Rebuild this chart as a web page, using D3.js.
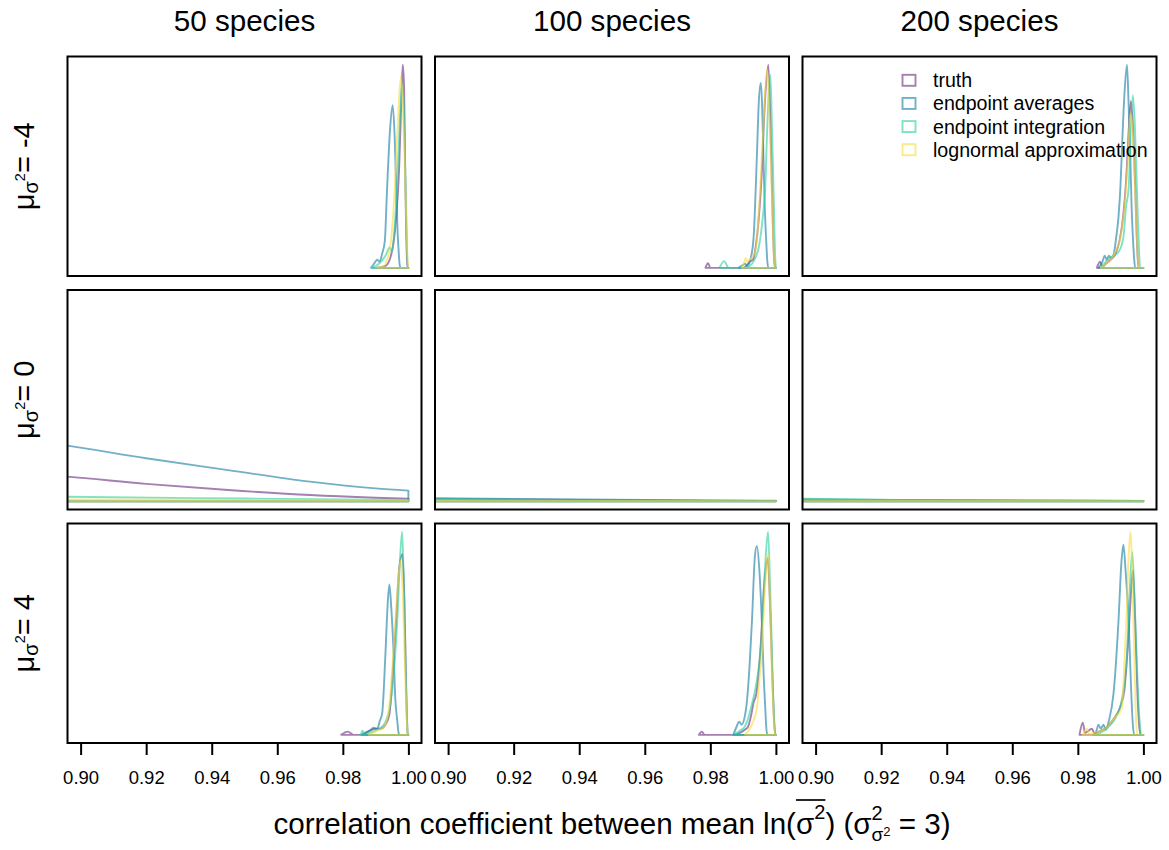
<!DOCTYPE html>
<html>
<head>
<meta charset="utf-8">
<script src="https://cdn.jsdelivr.net/npm/d3@7"></script>
<style>
  body { margin: 0; background: #fff; }
  svg { display: block; font-family: "Liberation Sans", Arial, Helvetica, sans-serif; }
</style>
</head>
<body>
<svg id="chart" width="1169" height="850"></svg>
<script>
// Column and row headings
const speciesCounts = ["50 species", "100 species", "200 species"];
const muValues = ["-4", "0", "4"];
const seriesNames = ["truth", "endpoint averages", "endpoint integration", "lognormal approximation"];
const seriesColors = ["#672a7b", "#127ca2", "#28d09d", "#f8da3c"];
const xTicks = [0.90, 0.92, 0.94, 0.96, 0.98, 1.00];

// Density curves as [correlation, relative density (% of the panel's maximum)].
// Panel order: mu = -4 (50, 100, 200 species), mu = 0 (...), mu = 4 (...)
const truthCurves = [
  [[0.9900,0],[0.9930,1],[0.9945,5],[0.9960,20],[0.9972,50],[0.9979,85],[0.9983,100],[0.9987,88],[0.9990,50],[0.9993,20],[0.9996,3],[0.9998,0],[1.0,0]],
  [[0.9785,0],[0.9793,2.3],[0.9800,0],[0.9900,0],[0.9910,1],[0.9920,3],[0.9930,4],[0.9938,10],[0.9947,23],[0.9957,47],[0.9966,80],[0.9977,100],[0.9985,60],[0.9991,20],[0.9995,3],[0.9998,0],[1.0,0]],
  [[0.9858,0],[0.9868,3],[0.9875,0.5],[0.9885,2],[0.9900,4],[0.9915,7],[0.9928,14],[0.9938,25],[0.9948,45],[0.9956,70],[0.9962,82],[0.9968,70],[0.9975,40],[0.9981,10],[0.9985,0],[1.0,0]],
  [[0.88,14],[0.896,12.2],[0.92,8.6],[0.945,5.6],[0.97,3.1],[0.99,1.8],[1.0,1.3]],
  [[0.88,1.4],[0.896,1.2],[0.95,0.6],[1.0,0.2]],
  [[0.88,0.9],[0.896,0.8],[0.95,0.4],[1.0,0.2]],
  [[0.9795,0],[0.9815,1.6],[0.9833,0],[0.9855,0],[0.9875,1.5],[0.9900,3],[0.9915,3],[0.9930,5],[0.9942,10],[0.9952,30],[0.9962,55],[0.9972,82],[0.9982,89],[0.9988,65],[0.9993,25],[0.9997,3],[0.9998,0],[1.0,0]],
  [[0.9765,0],[0.9774,1.6],[0.9783,0],[0.9870,0],[0.9890,1],[0.9905,2.5],[0.9915,4],[0.9925,10],[0.9932,16],[0.9940,20],[0.9952,40],[0.9965,75],[0.9975,87],[0.9983,60],[0.9990,25],[0.9996,3],[0.9999,0],[1.0,0]],
  [[0.9805,0],[0.9815,6],[0.9822,1],[0.9843,3],[0.9850,1],[0.9870,2],[0.9890,4],[0.9910,8],[0.9930,14],[0.9942,22],[0.9955,50],[0.9963,72],[0.9968,81],[0.9975,55],[0.9982,20],[0.9988,3],[0.9992,0],[1.0,0]]
];
const averagesCurves = [
  [[0.9886,0],[0.9895,2],[0.9905,4],[0.9912,3],[0.9920,7],[0.9928,13],[0.9935,39],[0.9944,68],[0.9952,80],[0.9958,65],[0.9963,39],[0.9967,18],[0.9970,9],[0.9973,2],[0.9976,0],[1.0,0]],
  [[0.9886,0],[0.9900,1.5],[0.9906,2],[0.9912,1],[0.9922,4],[0.9932,15],[0.9942,55],[0.9948,82],[0.9954,91],[0.9958,80],[0.9962,55],[0.9966,30],[0.9970,15],[0.9974,3],[0.9977,0],[1.0,0]],
  [[0.9863,0],[0.9875,3],[0.9882,6],[0.9888,4],[0.9895,6],[0.9900,5],[0.9909,6.5],[0.9917,15],[0.9924,25],[0.9930,40],[0.9934,56],[0.9942,85],[0.9950,100],[0.9955,80],[0.9960,56],[0.9964,30],[0.9968,15],[0.9972,4],[0.9975,0],[1.0,0]],
  [[0.88,31],[0.896,27.4],[0.92,21.2],[0.945,15.4],[0.97,9.7],[0.99,6.4],[1.0,5.3]],
  [[0.88,1.8],[0.896,1.5],[0.95,0.8],[1.0,0.3]],
  [[0.88,1.1],[0.896,0.9],[0.95,0.5],[1.0,0.2]],
  [[0.9858,0],[0.9875,1.5],[0.9885,2.5],[0.9894,3.5],[0.9905,3],[0.9913,7],[0.9920,10.6],[0.9930,40],[0.9937,65],[0.9942,74],[0.9948,62],[0.9955,40],[0.9960,18],[0.9966,7],[0.9970,1],[0.9973,0],[1.0,0]],
  [[0.9870,0],[0.9880,4],[0.9888,6.5],[0.9895,5],[0.9905,9],[0.9911,15.5],[0.9920,35],[0.9927,56],[0.9936,88],[0.9942,93],[0.9950,80],[0.9957,56],[0.9963,28],[0.9967,15],[0.9971,3],[0.9974,0],[1.0,0]],
  [[0.9847,0],[0.9855,1],[0.9863,5],[0.9870,3],[0.9878,5],[0.9885,2.5],[0.9895,7],[0.9909,20.5],[0.9924,56],[0.9933,85],[0.9939,93.6],[0.9946,80],[0.9955,56],[0.9962,25],[0.9965,13],[0.9969,3],[0.9972,0],[1.0,0]]
];
const integrationCurves = [
  [[0.9890,0],[0.9910,2],[0.9930,6],[0.9943,10],[0.9950,8],[0.9958,20],[0.9968,50],[0.9976,80],[0.9981,91],[0.9986,80],[0.9991,45],[0.9995,15],[0.9998,0],[1.0,0]],
  [[0.9828,0],[0.9842,3.3],[0.9856,0],[0.9900,0],[0.9920,1],[0.9935,4],[0.9950,12],[0.9960,25],[0.9967,38],[0.9975,75],[0.9983,95],[0.9988,70],[0.9994,30],[0.9998,5],[1.0,0]],
  [[0.9868,0],[0.9880,2],[0.9890,4],[0.9910,6],[0.9925,8],[0.9939,15],[0.9947,30],[0.9955,39],[0.9962,70],[0.9968,85],[0.9974,70],[0.9980,40],[0.9986,12],[0.9990,0],[1.0,0]],
  [[0.88,2.8],[0.896,2.3],[0.95,1.4],[1.0,0.7]],
  [[0.88,1.6],[0.896,1.3],[0.93,0.6],[1.0,0.1]],
  [[0.88,1.6],[0.896,1.3],[0.93,0.6],[1.0,0.2]],
  [[0.9855,0],[0.9860,2],[0.9866,0.5],[0.9880,1],[0.9900,2],[0.9925,5],[0.9945,15],[0.9966,56],[0.9975,88],[0.9981,100],[0.9986,75],[0.9992,30],[0.9996,5],[0.9998,0],[1.0,0]],
  [[0.9870,0],[0.9890,2],[0.9905,4],[0.9915,8],[0.9925,14],[0.9940,25],[0.9955,45],[0.9966,80],[0.9976,100],[0.9982,75],[0.9988,40],[0.9994,10],[0.9999,0],[1.0,0]],
  [[0.9850,0],[0.9880,2],[0.9900,5],[0.9920,10],[0.9935,18],[0.9950,40],[0.9958,70],[0.9966,90],[0.9972,72],[0.9980,35],[0.9988,8],[0.9995,0],[1.0,0]]
];
const lognormalCurves = [
  [[0.9900,0],[0.9925,1],[0.9935,4],[0.9948,15],[0.9958,38],[0.9968,72],[0.9977,94],[0.9983,80],[0.9990,45],[0.9995,15],[0.9999,0],[1.0,0]],
  [[0.9896,0],[0.9904,3],[0.9908,5],[0.9913,3],[0.9920,4],[0.9937,8],[0.9945,20],[0.9952,39],[0.9962,70],[0.9973,98],[0.9980,75],[0.9987,40],[0.9993,10],[0.9997,0],[1.0,0]],
  [[0.9870,0],[0.9885,2],[0.9900,4],[0.9915,8],[0.9930,15],[0.9944,33],[0.9953,55],[0.9960,76],[0.9966,70],[0.9973,45],[0.9980,15],[0.9985,0],[1.0,0]],
  [[0.88,1.2],[0.896,1.0],[0.95,0.7],[1.0,0.4]],
  [[0.88,0.5],[0.896,0.4],[1.0,0.1]],
  [[0.88,0.5],[0.896,0.4],[1.0,0.1]],
  [[0.9880,0],[0.9900,2],[0.9920,3],[0.9932,6],[0.9940,12],[0.9950,30],[0.9960,55],[0.9970,78],[0.9977,86],[0.9984,65],[0.9990,30],[0.9995,8],[0.9998,0],[1.0,0]],
  [[0.9906,0],[0.9920,3],[0.9942,13],[0.9950,28],[0.9957,40],[0.9966,70],[0.9976,89],[0.9982,65],[0.9988,30],[0.9994,6],[0.9998,0],[1.0,0]],
  [[0.9815,0],[0.9827,3],[0.9835,0.5],[0.9850,1],[0.9870,2],[0.9890,4],[0.9910,8],[0.9934,13],[0.9942,35],[0.9948,56],[0.9955,88],[0.9961,100],[0.9966,80],[0.9972,40],[0.9977,10],[0.9981,0],[1.0,0]]
];

const allSeries = [truthCurves, averagesCurves, integrationCurves, lognormalCurves];

// ---- layout ----
const svg = d3.select("#chart");
svg.append("rect").attr("width", 1169).attr("height", 850).attr("fill", "#fff");

const PANEL = { left: 67.5, top: 56.5, w: 354, h: 219.5, stepX: 367.5, stepY: 233.5 };
const xDomain = [0.896, 1.004];   // 0.90–1.00 plus 4% on each side
const yDomain = [-4, 104];        // 0–100 plus 4% on each side
const FONT_BIG = 29.6, FONT_TICK = 18.5, FONT_LEGEND = 19.6;
const LINE_W = 1.9, LINE_ALPHA = 0.6;

for (let i = 0; i < 9; i++) {
  const r = Math.floor(i / 3), c = i % 3;
  const x0 = PANEL.left + c * PANEL.stepX, y0 = PANEL.top + r * PANEL.stepY;
  const x = d3.scaleLinear().domain(xDomain).range([x0, x0 + PANEL.w]);
  const y = d3.scaleLinear().domain(yDomain).range([y0 + PANEL.h, y0]);

  svg.append("clipPath").attr("id", "clip" + i)
    .append("rect").attr("x", x0).attr("y", y0).attr("width", PANEL.w).attr("height", PANEL.h);

  const g = svg.append("g").attr("clip-path", `url(#clip${i})`);
  const area = d3.area()
    .x(d => x(d[0])).y0(y(0)).y1(d => y(d[1]))
    .curve(d3.curveMonotoneX);

  allSeries.forEach((series, k) => {
    g.append("path")
      .attr("d", area(series[i]))
      .attr("fill", "none")
      .attr("stroke", seriesColors[k])
      .attr("stroke-opacity", LINE_ALPHA)
      .attr("stroke-width", LINE_W)
      .attr("stroke-linejoin", "round");
  });

  svg.append("rect")
    .attr("x", x0).attr("y", y0).attr("width", PANEL.w).attr("height", PANEL.h)
    .attr("fill", "none").attr("stroke", "#000").attr("stroke-width", 2);

  if (r === 2) {
    const ax = svg.append("g")
      .attr("transform", `translate(0,${y0 + PANEL.h})`)
      .call(d3.axisBottom(x).tickValues(xTicks).tickSize(12).tickPadding(16)
        .tickFormat(d3.format(".2f")));
    ax.select(".domain").remove();
    ax.selectAll(".tick line").attr("stroke", "#000").attr("stroke-width", 2);
    ax.selectAll(".tick text").attr("fill", "#000")
      .attr("font-size", FONT_TICK).attr("font-family", "Liberation Sans, Arial, sans-serif");
  }

  if (r === 0) {
    svg.append("text")
      .attr("x", x0 + PANEL.w / 2).attr("y", 31)
      .attr("text-anchor", "middle").attr("font-size", FONT_BIG)
      .text(speciesCounts[c]);
  }
}

// Text built from pieces with size and baseline shift; `under` stacks a piece
// beneath the previous one (sub- and superscript on the same symbol).
function richText(parent, pieces) {
  const g = parent.append("g");
  const t = g.append("text").attr("x", 0).attr("y", 0);
  let cur = 0, prev = null;
  pieces.forEach(p => {
    const shift = p.shift || 0;
    const s = t.append("tspan").attr("font-size", p.size).attr("dy", shift - cur).text(p.t);
    cur = shift;
    if (p.under && prev) s.attr("dx", -prev.node().getComputedTextLength());
    prev = s;
  });
  return { g, t };
}

// Row labels: mu_{sigma^2} = value
muValues.forEach((m, r) => {
  const cy = PANEL.top + r * PANEL.stepY + PANEL.h / 2;
  const holder = svg.append("g").attr("transform", `translate(34,${cy}) rotate(-90)`);
  const { g, t } = richText(holder, [
    { t: "\u03bc", size: 29 },
    { t: "\u03c3", size: 20, shift: 3.5 },
    { t: "2", size: 14.5, shift: -9 },
    { t: "= " + m, size: 29, shift: 0 }
  ]);
  const bb = t.node().getBBox();
  g.attr("transform", `translate(${-(bb.x + bb.width / 2)},0)`);
});

// X-axis title
{
  const head = "correlation coefficient between mean ln(";
  const { g, t } = richText(svg, [
    { t: head, size: FONT_BIG },
    { t: "\u03c3", size: FONT_BIG },
    { t: "2", size: 20, shift: -15 },
    { t: ") (\u03c3", size: FONT_BIG, shift: 0 },
    { t: "2", size: 20, shift: -14 },
    { t: "\u03c3", size: 19, shift: 7, under: true },
    { t: "2", size: 13, shift: 1.5 },
    { t: " = 3)", size: FONT_BIG, shift: 0 }
  ]);
  const bb = t.node().getBBox();
  g.attr("transform", `translate(${612 - (bb.x + bb.width / 2)},834)`);
  // bar over sigma^2 inside ln( )
  const n = head.length;
  const a = t.node().getExtentOfChar(n);
  const b = t.node().getExtentOfChar(n + 1);
  g.append("line")
    .attr("x1", a.x).attr("x2", b.x + b.width)
    .attr("y1", b.y - 1).attr("y2", b.y - 1)
    .attr("stroke", "#000").attr("stroke-width", 1.7);
}

// Legend (top-right panel)
{
  const lg = svg.append("g");
  const rowY = d3.scaleLinear().domain([0, 3]).range([80.3, 149.7]);
  seriesNames.forEach((name, k) => {
    const cy = rowY(k);
    lg.append("rect")
      .attr("x", 902.5).attr("y", cy - 5.5).attr("width", 13).attr("height", 11)
      .attr("fill", "none").attr("stroke", seriesColors[k])
      .attr("stroke-opacity", LINE_ALPHA).attr("stroke-width", LINE_W);
    lg.append("text")
      .attr("x", 933).attr("y", cy + 7)
      .attr("font-size", FONT_LEGEND).text(name);
  });
}
</script>
</body>
</html>
